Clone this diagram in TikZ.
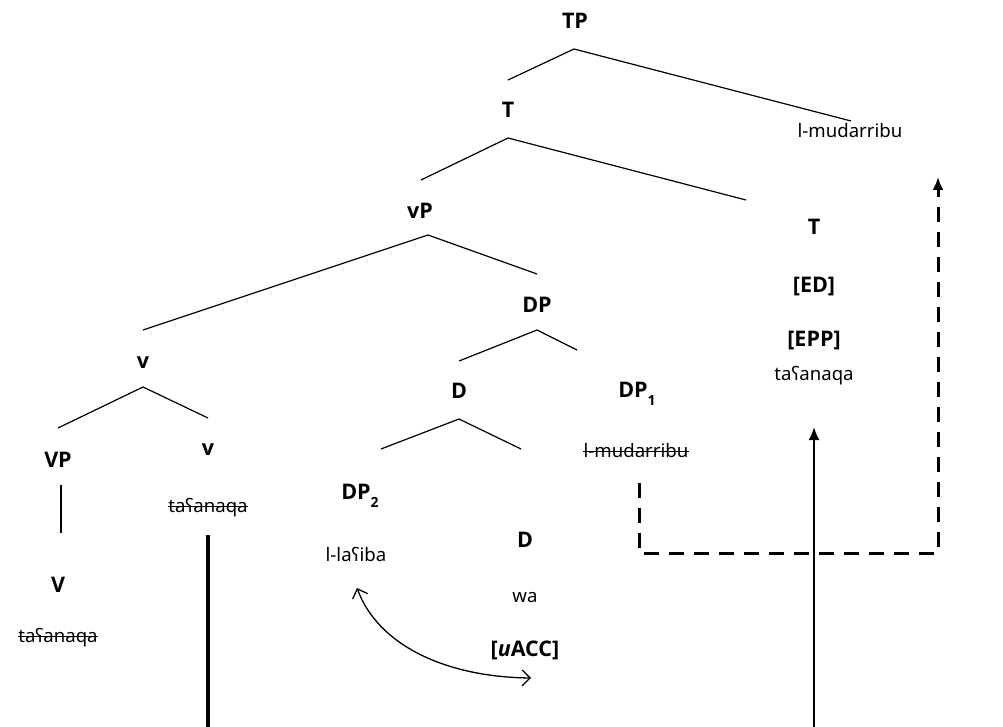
\documentclass[tikz,border=0pt]{standalone}
\usepackage{fontspec}
\setmainfont{Noto Sans}
\newfontfamily\labfont{Open Sans}
\usetikzlibrary{arrows.meta}
\tikzset{
  lab/.style={font=\labfont\fontsize{21.5}{24}\selectfont\bfseries, inner sep=0pt, anchor=base},
  word/.style={font=\fontsize{18.6}{22}\selectfont, inner sep=0pt, anchor=base},
  branch/.style={line width=1.2pt},
  strike/.style={line width=1.3pt},
  move/.style={line width=3pt, dash pattern=on 15pt off 10pt, -{Latex[length=13pt,width=11pt]}},
  raise/.style={line width=2pt, -{Latex[length=13pt,width=11pt]}},
  trace/.style={line width=3.6pt},
  agree/.style={line width=1.3pt, {Straight Barb[length=8pt,width=16pt]}-{Straight Barb[length=8pt,width=16pt]}}
}
\newcommand{\subidx}[1]{\raisebox{-0.4em}{\fontsize{14}{14}\selectfont #1}}
\begin{document}
\begin{tikzpicture}[x=1pt,y=-1pt]
\useasboundingbox (0,0) rectangle (1003,727);
% labels
\node[lab] (TP) at (575,29) {TP};
\node[lab] (T1) at (508,118) {T};
\node[lab] (vP) at (420,219) {vP};
\node[word] (subj) at (850,138) {l-mudarribu};
\node[lab] (T2) at (814,235) {T};
\node[lab] (ED) at (814,292) {[ED]};
\node[lab] (EPP) at (814,346) {[EPP]};
\node[word] (verbT) at (814,380) {taʕanaqa};
\node[lab] (DP) at (537,312) {DP};
\node[lab] (D1) at (459,398) {D};
\node[lab] (DP1) at (637,397) {DP\subidx{1}};
\node[word] (subjtr) at (636,457) {l-mudarribu};
\node[lab] (v1) at (143,368) {v};
\node[lab] (VP) at (58,467) {VP};
\node[lab] (v2) at (208,455) {v};
\node[word] (verbv) at (208,512) {taʕanaqa};
\node[lab] (V) at (58,592) {V};
\node[word] (verbV) at (58,642) {taʕanaqa};
\node[lab] (DP2) at (360,499) {DP\subidx{2}};
\node[word] (obj) at (356,561) {l-laʕiba};
\node[lab] (D2) at (525,547) {D};
\node[word] (wa) at (525,602) {wa};
\node[lab] (uacc) at (525,656) {[\textit{u}ACC]};
% strike-outs
\foreach \n in {subjtr,verbv,verbV}{
  \draw[strike] ([yshift=5.5pt]\n.base west) -- ([yshift=5.5pt]\n.base east);
}
% branch points
\coordinate (tpA) at (574,49); \coordinate (tpL) at (508,80); \coordinate (tpR) at (851,121);
\coordinate (tA) at (508,138); \coordinate (tL) at (421,180); \coordinate (tR) at (746,200);
\coordinate (vpA) at (428,235); \coordinate (vpL) at (143,330); \coordinate (vpR) at (537,274);
\coordinate (dpA) at (537,330); \coordinate (dpL) at (459,361); \coordinate (dpR) at (577,350);
\coordinate (dA) at (459,419); \coordinate (dL) at (381,449); \coordinate (dR) at (521,449);
\coordinate (vA) at (143,387); \coordinate (vL) at (58,428); \coordinate (vR) at (208,418);
\coordinate (vpT) at (61,485); \coordinate (vpB) at (61,533);
\draw[branch] (tpL) -- (tpA) -- (tpR);
\draw[branch] (tL) -- (tA) -- (tR);
\draw[branch] (vpL) -- (vpA) -- (vpR);
\draw[branch] (dpL) -- (dpA) -- (dpR);
\draw[branch] (dL) -- (dA) -- (dR);
\draw[branch] (vL) -- (vA) -- (vR);
\draw[branch] (vpT) -- (vpB);
% movement
\coordinate (trTop) at (208,535); \coordinate (trBot) at (208,727);
\draw[trace] (trTop) -- (trBot);
\coordinate (raB) at (814,727); \coordinate (raT) at (814,427);
\draw[raise] (raB) -- (raT);
\coordinate (mvS) at (639,483); \coordinate (mvC1) at (639,553);
\coordinate (mvC2) at (938,553); \coordinate (mvE) at (938,177);
\draw[move] (mvS) -- (mvC1) -- (mvC2) -- (mvE);
\coordinate (agS) at (357,588); \coordinate (agE) at (531,678);
\draw[agree] (agS) .. controls (378,645) and (445,677) .. (agE);
\end{tikzpicture}
\end{document}
